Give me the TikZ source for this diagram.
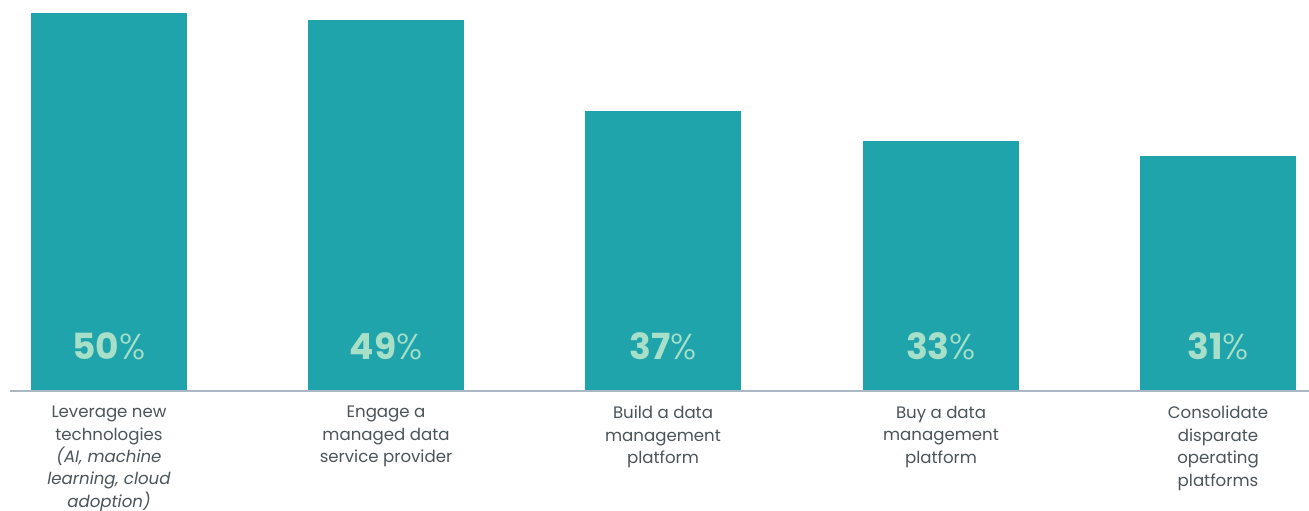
\documentclass[tikz,border=0pt]{standalone}
\usepackage{fontspec}
\setmainfont{Poppins}
\newfontfamily\pctfont{Poppins Light}
\usepackage{xcolor}
\usepackage{tikz}
\definecolor{barteal}{HTML}{20A4AB}
\definecolor{valmint}{HTML}{A8DFC8}
\definecolor{axisgray}{HTML}{AAB8C6}
\definecolor{labelgray}{HTML}{4A5459}
\tikzstyle{bar} = [fill=barteal,draw=none]
\tikzstyle{value} = [text=valmint,font=\fontsize{36}{36}\selectfont,anchor=base,inner sep=0pt]
\tikzstyle{category} = [text=labelgray,font=\fontsize{16.6}{22.4}\selectfont,align=center,anchor=north,inner sep=0pt]

\begin{document}
\begin{tikzpicture}[x=1pt,y=-1pt]
	% Frame of the whole chart:
	\useasboundingbox (0,0) rectangle (1309,511);
	
	% Bars:
	% index / left edge / top / value
	\foreach \n/\xl/\ytop/\v in {1/31/13/50,2/308/20/49,3/585/111/37,4/863/141/33,5/1140/156/31}{%
		\fill[bar] (\xl,\ytop) rectangle ++(156,391-\ytop);
		\node[value] (val-\n) at (\xl+78,359) {\textbf{\v}{\pctfont\%}};
	}
	
	% Axis:
	\coordinate (axis-l) at (10,391);
	\coordinate (axis-r) at (1309,391);
	\draw[axisgray,line width=2pt] (axis-l) -- (axis-r);
	
	% Category labels:
	\node[category] (cat-1) at (109,406) {Leverage new\\technologies\\\textit{(AI, machine}\\\textit{learning, cloud}\\\textit{adoption)}};
	\node[category] (cat-2) at (386,406) {Engage a\\managed data\\service provider};
	\node[category] (cat-3) at (663,406) {Build a data\\management\\platform};
	\node[category] (cat-4) at (941,406) {Buy a data\\management\\platform};
	\node[category] (cat-5) at (1218,406) {Consolidate\\disparate\\operating\\platforms};
\end{tikzpicture}
\end{document}
